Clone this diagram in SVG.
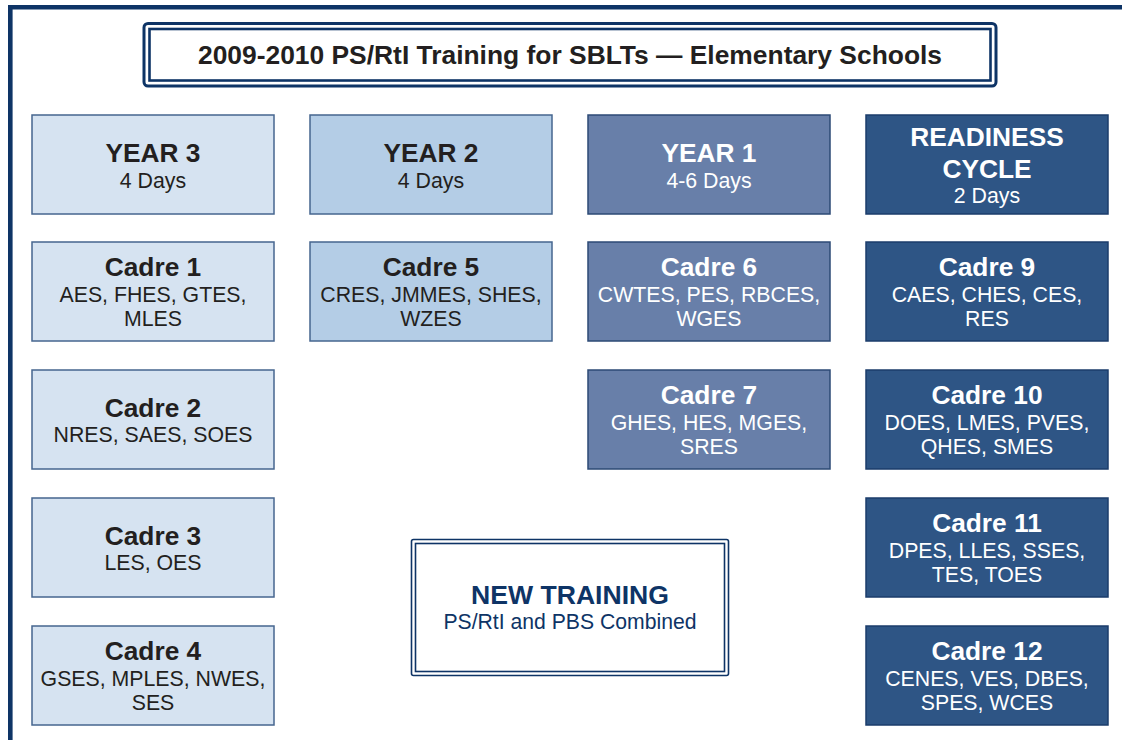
<svg xmlns="http://www.w3.org/2000/svg" width="1122" height="740" viewBox="0 0 1122 740">
  <style>
    text { font-family: "Liberation Sans", Arial, sans-serif; text-anchor: middle; }
    .h { font-weight: bold; font-size: 26.3px; }
    .s { font-size: 21.3px; }
    .dark { fill: #231f20; }
    .light { fill: #ffffff; }
    .c1 { fill: #d6e3f1; stroke: #46668f; stroke-width: 1.5; }
    .c2 { fill: #b4cde6; stroke: #46668f; stroke-width: 1.5; }
    .c3 { fill: #687fa9; stroke: #2c4a75; stroke-width: 1.5; }
    .c4 { fill: #2e5585; stroke: #1b3d6b; stroke-width: 1.5; }
  </style>

  <rect x="0" y="0" width="1122" height="740" fill="#ffffff"/>

  <!-- page frame -->
  <path d="M10.3 740 V7.3 H1122" fill="none" stroke="#0e3466" stroke-width="4.6"/>

  <!-- title banner -->
  <g id="title">
    <rect x="144" y="23.5" width="852" height="62.5" rx="4" fill="#ffffff" stroke="#0e3466" stroke-width="3"/>
    <rect x="149.5" y="29" width="841" height="51.5" fill="none" stroke="#0e3466" stroke-width="2.6"/>
    <text x="570" y="64" class="dark" style="font-weight:bold;font-size:26.4px">2009-2010 PS/RtI Training for SBLTs — Elementary Schools</text>
  </g>

  <!-- column 1 : Year 3 -->
  <g id="year3">
    <rect class="c1" x="32" y="115" width="242" height="99"/>
    <text class="h dark" x="153" y="162">YEAR 3</text>
    <text class="s dark" x="153" y="188">4 Days</text>
  </g>
  <g id="cadre1">
    <rect class="c1" x="32" y="242" width="242" height="99"/>
    <text class="h dark" x="153" y="276">Cadre 1</text>
    <text class="s dark" x="153" y="302">AES, FHES, GTES,</text>
    <text class="s dark" x="153" y="326">MLES</text>
  </g>
  <g id="cadre2">
    <rect class="c1" x="32" y="370" width="242" height="99"/>
    <text class="h dark" x="153" y="417">Cadre 2</text>
    <text class="s dark" x="153" y="442">NRES, SAES, SOES</text>
  </g>
  <g id="cadre3">
    <rect class="c1" x="32" y="498" width="242" height="99"/>
    <text class="h dark" x="153" y="545">Cadre 3</text>
    <text class="s dark" x="153" y="570">LES, OES</text>
  </g>
  <g id="cadre4">
    <rect class="c1" x="32" y="626" width="242" height="99"/>
    <text class="h dark" x="153" y="660">Cadre 4</text>
    <text class="s dark" x="153" y="686">GSES, MPLES, NWES,</text>
    <text class="s dark" x="153" y="710">SES</text>
  </g>

  <!-- column 2 : Year 2 -->
  <g id="year2">
    <rect class="c2" x="310" y="115" width="242" height="99"/>
    <text class="h dark" x="431" y="162">YEAR 2</text>
    <text class="s dark" x="431" y="188">4 Days</text>
  </g>
  <g id="cadre5">
    <rect class="c2" x="310" y="242" width="242" height="99"/>
    <text class="h dark" x="431" y="276">Cadre 5</text>
    <text class="s dark" x="431" y="302">CRES, JMMES, SHES,</text>
    <text class="s dark" x="431" y="326">WZES</text>
  </g>

  <!-- column 3 : Year 1 -->
  <g id="year1">
    <rect class="c3" x="588" y="115" width="242" height="99"/>
    <text class="h light" x="709" y="162">YEAR 1</text>
    <text class="s light" x="709" y="188">4-6 Days</text>
  </g>
  <g id="cadre6">
    <rect class="c3" x="588" y="242" width="242" height="99"/>
    <text class="h light" x="709" y="276">Cadre 6</text>
    <text class="s light" x="709" y="302">CWTES, PES, RBCES,</text>
    <text class="s light" x="709" y="326">WGES</text>
  </g>
  <g id="cadre7">
    <rect class="c3" x="588" y="370" width="242" height="99"/>
    <text class="h light" x="709" y="404">Cadre 7</text>
    <text class="s light" x="709" y="430">GHES, HES, MGES,</text>
    <text class="s light" x="709" y="454">SRES</text>
  </g>

  <!-- column 4 : Readiness cycle -->
  <g id="readiness">
    <rect class="c4" x="866" y="115" width="242" height="99"/>
    <text class="h light" x="987" y="146">READINESS</text>
    <text class="h light" x="987" y="178">CYCLE</text>
    <text class="s light" x="987" y="203">2 Days</text>
  </g>
  <g id="cadre9">
    <rect class="c4" x="866" y="242" width="242" height="99"/>
    <text class="h light" x="987" y="276">Cadre 9</text>
    <text class="s light" x="987" y="302">CAES, CHES, CES,</text>
    <text class="s light" x="987" y="326">RES</text>
  </g>
  <g id="cadre10">
    <rect class="c4" x="866" y="370" width="242" height="99"/>
    <text class="h light" x="987" y="404">Cadre 10</text>
    <text class="s light" x="987" y="430">DOES, LMES, PVES,</text>
    <text class="s light" x="987" y="454">QHES, SMES</text>
  </g>
  <g id="cadre11">
    <rect class="c4" x="866" y="498" width="242" height="99"/>
    <text class="h light" x="987" y="532">Cadre 11</text>
    <text class="s light" x="987" y="558">DPES, LLES, SSES,</text>
    <text class="s light" x="987" y="582">TES, TOES</text>
  </g>
  <g id="cadre12">
    <rect class="c4" x="866" y="626" width="242" height="99"/>
    <text class="h light" x="987" y="660">Cadre 12</text>
    <text class="s light" x="987" y="686">CENES, VES, DBES,</text>
    <text class="s light" x="987" y="710">SPES, WCES</text>
  </g>

  <!-- new training callout -->
  <g id="new-training">
    <rect x="411.5" y="539.5" width="317" height="136" rx="2" fill="#ffffff" stroke="#0e3466" stroke-width="1.6"/>
    <rect x="415.5" y="543.5" width="309" height="128" fill="none" stroke="#0e3466" stroke-width="1.6"/>
    <text x="570" y="604" style="font-weight:bold;font-size:26.6px;fill:#0e3466">NEW TRAINING</text>
    <text x="570" y="629" style="font-size:21.2px;fill:#0e3466">PS/RtI and PBS Combined</text>
  </g>

  <!-- no connectors in this layout -->
  <g id="connectors"/>
</svg>
